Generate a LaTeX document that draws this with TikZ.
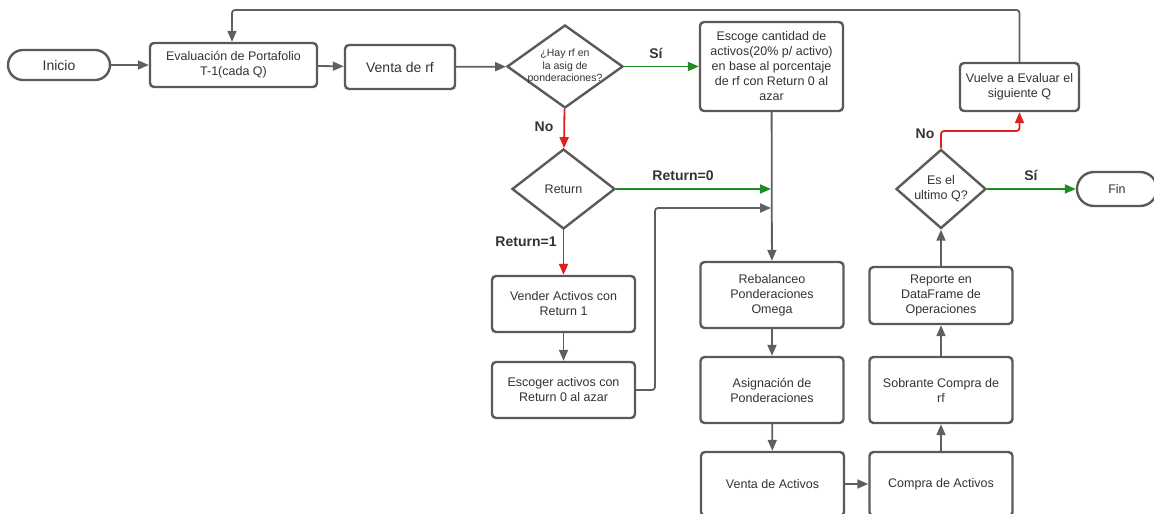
\documentclass[tikz,border=0pt]{standalone}
\usepackage{fontspec}
\setmainfont{Liberation Sans}
\usetikzlibrary{arrows.meta,shapes.geometric}
\definecolor{bord}{HTML}{5A5A5A}
\definecolor{txt}{HTML}{333333}
\definecolor{gline}{HTML}{5F5F5F}
\definecolor{gr}{HTML}{1E8C1E}
\definecolor{rd}{HTML}{E02020}
\tikzset{
  box/.style={draw=bord, line width=2.4pt, rounded corners=4pt, fill=white, align=center, text=txt, inner sep=2pt, font=\fontsize{12.5}{15}\selectfont},
  term/.style={draw=bord, line width=2.4pt, rounded corners=15pt, fill=white, text=txt, minimum height=30pt, font=\fontsize{14}{16}\selectfont},
  dec/.style={diamond, draw=bord, line width=2.4pt, fill=white, inner sep=0pt},
  dectext/.style={align=center, text=txt, inner sep=0pt, font=\fontsize{12.5}{15}\selectfont},
  conn/.style={draw=gline, line width=1.8pt, -{Triangle[length=11pt,width=9pt]}, rounded corners=3pt},
  gconn/.style={conn, draw=gr, -{Triangle[length=11pt,width=9pt,fill=gr]}},
  rconn/.style={conn, draw=rd, -{Triangle[length=11pt,width=9pt,fill=rd]}},
  lab/.style={font=\bfseries\fontsize{14}{16}\selectfont, text=txt},
}
\begin{document}
\begin{tikzpicture}[x=1pt,y=-1pt]
\useasboundingbox (0,0) rectangle (1154,514);
\clip (0,0) rectangle (1154,514);
\node[term, minimum width=102pt] (ini) at (59,65) {Inicio};
\node[box, minimum width=167pt, minimum height=44pt] (eval) at (233.5,65) {Evaluación de Portafolio\\T-1(cada Q)};
\node[box, minimum width=110pt, minimum height=44pt, font=\fontsize{14}{16}\selectfont] (vrf) at (400,67) {Venta de rf};
\node[dec, minimum width=116pt, minimum height=83pt] (d1) at (565,66.5) {};
\node[dectext, font=\fontsize{10.5}{12.5}\selectfont] (d1t) at (d1) {¿Hay rf en\\la asig de\\ponderaciones?};
\node[box, minimum width=143pt, minimum height=89pt] (esc) at (771.5,66.5) {Escoge cantidad de\\activos(20\% p/ activo)\\en base al porcentaje\\de rf con Return 0 al\\azar};
\node[dec, minimum width=103pt, minimum height=80pt] (d2) at (563.5,189) {};
\node[dectext] (d2t) at (d2) {Return};
\node[box, minimum width=143pt, minimum height=56pt] (vend) at (563.5,304) {Vender Activos con\\Return 1};
\node[box, minimum width=143pt, minimum height=56pt] (escr) at (563.5,390) {Escoger activos con\\Return 0 al azar};
\node[box, minimum width=143pt, minimum height=66pt] (reb) at (772,295) {Rebalanceo\\Ponderaciones\\Omega};
\node[box, minimum width=143pt, minimum height=66pt] (asig) at (772,390) {Asignación de\\Ponderaciones};
\node[box, minimum width=143pt, minimum height=64pt] (vact) at (772.5,484) {Venta de Activos};
\node[box, minimum width=143pt, minimum height=64pt] (cact) at (941,484) {Compra de Activos};
\node[box, minimum width=143pt, minimum height=66pt] (sobr) at (941,390) {Sobrante Compra de\\rf};
\node[box, minimum width=143pt, minimum height=57pt] (rep) at (941,295.5) {Reporte en\\DataFrame de\\Operaciones};
\node[dec, minimum width=90pt, minimum height=79pt] (d3) at (941,189) {};
\node[dectext] (d3t) at (d3) {Es el\\ultimo Q?};
\node[term, minimum width=80pt, minimum height=34pt, rounded corners=17pt, font=\fontsize{12.5}{15}\selectfont] (fin) at (1117,189) {Fin};
\node[box, minimum width=119pt, minimum height=48pt] (vuel) at (1019.5,87) {Vuelve a Evaluar el\\siguiente Q};
% coordinates on the vertical line
\coordinate (j0) at (771,187);
\coordinate (j1) at (771,208);
% connectors
\draw[conn] (ini) -- (eval);
\draw[conn] (eval) -- (vrf);
\draw[conn] (vrf) -- (d1);
\draw[gconn] (d1) -- (esc);
\draw[rconn] (d1) -- (d2);
\draw[gconn] (d2.east) -- (d2.east -| j0);
\draw[rconn] (d2) -- (vend);
\draw[conn] (vend) -- (escr);
\draw[conn] (escr.east) -- (655,390) -- (655,208) -- (j1);
\draw[conn] (esc) -- (reb);
\draw[conn] (reb) -- (asig);
\draw[conn] (asig) -- (vact);
\draw[conn] (vact.east |- 0,484) -- (cact.west |- 0,484);
\draw[conn] (cact) -- (sobr);
\draw[conn] (sobr) -- (rep);
\draw[conn] (rep) -- (d3);
\draw[gconn] (d3) -- (fin);
\draw[rconn] (d3.north) -- (941,131) -- (1019.5,131) -- (vuel.south);
\draw[conn] (vuel.north) -- (1019.5,10) -- (232,10) -- (eval.north -| 232,0);
% labels
\node[lab] (l1) at (656,53) {Sí};
\node[lab] (l2) at (544,127) {No};
\node[lab] (l3) at (683,176) {Return=0};
\node[lab] (l4) at (526,242) {Return=1};
\node[lab] (l5) at (925,134) {No};
\node[lab] (l6) at (1031,175) {Sí};
\end{tikzpicture}
\end{document}
